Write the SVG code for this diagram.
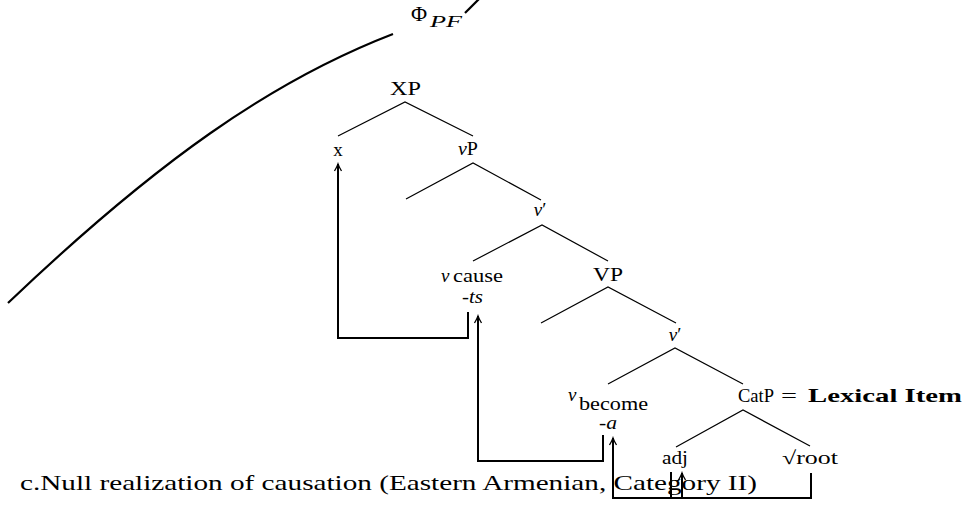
<svg xmlns="http://www.w3.org/2000/svg" width="967" height="513" viewBox="0 0 967 513">
<style>
text{font-family:"Liberation Serif","Times New Roman",serif;fill:#000}
.lbl{font-size:19px}
.it{font-style:italic}
.b{font-weight:bold}
.edge{stroke:#000;stroke-width:1.2;fill:none}
.mv{stroke:#000;stroke-width:2;fill:none}
.curve{stroke:#000;stroke-width:2.2;fill:none}
</style>
<defs>
<marker id="ah" viewBox="-8 -5 10 10" refX="0" refY="0" markerWidth="10" markerHeight="10" markerUnits="userSpaceOnUse" orient="auto">
<path d="M-7,-3.5 Q-2.5,-0.8 0,0 Q-2.5,0.8 -7,3.5" fill="none" stroke="#000" stroke-width="1.3"/>
</marker>
</defs>
<rect width="967" height="513" fill="#fff"/>

<g id="phi-curve">
<path class="curve" d="M393,34 C271,81 156,162 8,303"/>
<path class="curve" d="M465,13 L479,-1"/>
<text x="411" y="21" style="font-size:22px">Φ</text>
<text x="430" y="27" class="it" style="font-size:16px" textLength="32" lengthAdjust="spacingAndGlyphs">PF</text>
</g>

<g id="connectors">
<path class="edge" d="M338,136 L405,102 L473,136"/>
<path class="edge" d="M406,199 L473,163 L541,200"/>
<path class="edge" d="M473,261 L542,225 L608,261"/>
<path class="edge" d="M541,323 L608,287 L676,323"/>
<path class="edge" d="M608,384 L675,348 L743,384"/>
<path class="edge" d="M676,447 L743,410 L810,446"/>
<path class="mv" d="M468,312 V338 H338 V164" marker-end="url(#ah)"/>
<path class="mv" d="M603,435 V461 H478 V316" marker-end="url(#ah)"/>
<path class="mv" d="M811,473 V498 H613 V438" marker-end="url(#ah)"/>
<path class="mv" d="M671,472 V498"/>
<path class="mv" d="M682,498 V473" marker-end="url(#ah)"/>
</g>

<g id="node-XP"><text class="lbl" x="390" y="95" textLength="31" lengthAdjust="spacingAndGlyphs">XP</text></g>
<g id="node-x"><text class="lbl" x="338" y="156" text-anchor="middle">x</text></g>
<g id="node-vP"><text class="lbl" x="458" y="155" textLength="20" lengthAdjust="spacingAndGlyphs"><tspan class="it">v</tspan>P</text></g>
<g id="node-vbar1"><text class="lbl" x="540" y="216" text-anchor="middle"><tspan class="it">v</tspan>′</text></g>
<g id="node-vcause">
<text class="lbl it" x="441" y="282">v</text>
<text class="lbl" x="453" y="282" textLength="50" lengthAdjust="spacingAndGlyphs">cause</text>
<text class="lbl" x="462" y="303" textLength="21" lengthAdjust="spacingAndGlyphs">-<tspan class="it">ts</tspan></text>
</g>
<g id="node-VP"><text class="lbl" x="593" y="281" textLength="30" lengthAdjust="spacingAndGlyphs">VP</text></g>
<g id="node-vbar2"><text class="lbl" x="675" y="341" text-anchor="middle"><tspan class="it">v</tspan>′</text></g>
<g id="node-vbecome">
<text class="lbl it" x="568" y="401">v</text>
<text class="lbl" x="579" y="410" textLength="69" lengthAdjust="spacingAndGlyphs">become</text>
<text class="lbl" x="599" y="429" textLength="18" lengthAdjust="spacingAndGlyphs">-<tspan class="it">a</tspan></text>
</g>
<g id="node-CatP">
<text class="lbl" x="738" y="402" textLength="36" lengthAdjust="spacingAndGlyphs">CatP</text>
<text class="lbl" x="781" y="402" textLength="16" lengthAdjust="spacingAndGlyphs">=</text>
<text class="lbl b" x="808" y="402" textLength="154" lengthAdjust="spacingAndGlyphs">Lexical Item</text>
</g>
<g id="node-adj"><text class="lbl" x="662" y="464" textLength="26" lengthAdjust="spacingAndGlyphs">adj</text></g>
<g id="node-root"><text class="lbl" x="782" y="464" textLength="56" lengthAdjust="spacingAndGlyphs">√root</text></g>

<g id="caption">
<text x="20" y="490" style="font-size:21px" textLength="737" lengthAdjust="spacingAndGlyphs">c.Null realization of causation (Eastern Armenian, Category II)</text>
</g>
</svg>
